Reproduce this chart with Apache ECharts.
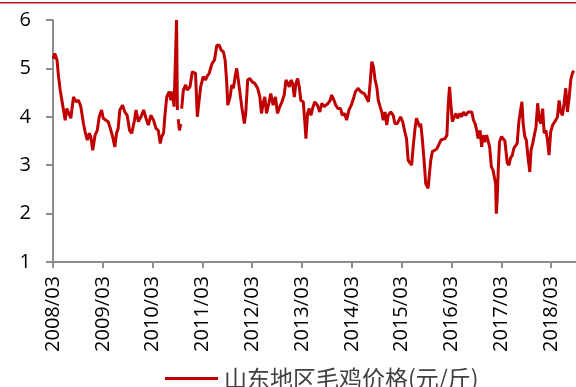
<!DOCTYPE html>
<html>
<head>
<meta charset="utf-8">
<title>山东地区毛鸡价格</title>
<script src="https://cdn.jsdelivr.net/npm/echarts@6/dist/echarts.min.js"></script>
<style>
  html, body { margin: 0; padding: 0; background: #fff; }
  #chart { width: 576px; height: 387px; }
</style>
</head>
<body>
<div id="chart"></div>
<script>
// 山东地区毛鸡价格 (元/斤)，周度数据，null 表示缺失
const seriesName = '山东地区毛鸡价格(元/斤)'
const dates = [
  '2008-03-03', '2008-03-14', '2008-03-30', '2008-04-11', '2008-04-23', '2008-05-13', '2008-05-29', '2008-06-11', '2008-06-23', '2008-07-10',
  '2008-07-29', '2008-08-18', '2008-09-05', '2008-09-22', '2008-10-11', '2008-10-23', '2008-11-09', '2008-11-24', '2008-12-04', '2008-12-18',
  '2009-01-05', '2009-01-21', '2009-02-05', '2009-02-22', '2009-03-04', '2009-03-24', '2009-04-10', '2009-04-22', '2009-05-12', '2009-05-28',
  '2009-06-10', '2009-06-22', '2009-07-04', '2009-07-24', '2009-08-10', '2009-08-27', '2009-09-14', '2009-09-30', '2009-10-20', '2009-11-01',
  '2009-11-18', '2009-12-07', '2009-12-26', '2010-01-13', '2010-01-30', '2010-02-18', '2010-03-08', '2010-03-25', '2010-04-12', '2010-04-26',
  '2010-05-06', '2010-05-20', '2010-05-29', '2010-06-13', '2010-07-01', '2010-07-12', '2010-07-24', '2010-08-06', '2010-08-18', '2010-08-24',
  '2010-08-30', '2010-09-03', '2010-09-06', '2010-09-15', '2010-09-24', '2010-09-27', '2010-10-01', '2010-10-13', '2010-10-30', '2010-11-12',
  '2010-12-01', '2010-12-18', '2010-12-30', '2011-01-11', '2011-01-24', '2011-02-06', '2011-02-18', '2011-03-07', '2011-03-24', '2011-04-03',
  '2011-04-20', '2011-05-10', '2011-05-28', '2011-06-15', '2011-07-02', '2011-07-16', '2011-08-03', '2011-08-15', '2011-08-27', '2011-09-04',
  '2011-09-21', '2011-10-03', '2011-10-15', '2011-10-27', '2011-11-09', '2011-11-20', '2011-12-03', '2011-12-15', '2012-01-04', '2012-01-14',
  '2012-01-28', '2012-02-14', '2012-03-01', '2012-03-20', '2012-04-10', '2012-04-26', '2012-05-08', '2012-05-20', '2012-06-02', '2012-06-14',
  '2012-07-01', '2012-07-15', '2012-08-02', '2012-08-19', '2012-09-03', '2012-09-20', '2012-10-06', '2012-10-22', '2012-11-05', '2012-11-17',
  '2012-11-29', '2012-12-11', '2012-12-23', '2013-01-05', '2013-01-17', '2013-01-29', '2013-02-11', '2013-02-22', '2013-03-10', '2013-03-22',
  '2013-03-29', '2013-04-11', '2013-04-23', '2013-05-05', '2013-05-17', '2013-06-03', '2013-06-22', '2013-07-09', '2013-07-24', '2013-08-11',
  '2013-08-22', '2013-09-10', '2013-09-24', '2013-10-05', '2013-10-22', '2013-11-04', '2013-11-21', '2013-12-10', '2013-12-22', '2014-01-09',
  '2014-01-23', '2014-02-10', '2014-02-27', '2014-03-16', '2014-03-27', '2014-04-17', '2014-05-04', '2014-05-16', '2014-05-30', '2014-06-14',
  '2014-07-01', '2014-07-13', '2014-07-25', '2014-08-07', '2014-08-19', '2014-09-01', '2014-09-12', '2014-09-25', '2014-10-07', '2014-10-18',
  '2014-11-01', '2014-11-13', '2014-11-24', '2014-12-12', '2014-12-30', '2015-01-12', '2015-01-29', '2015-02-13', '2015-02-23', '2015-03-08',
  '2015-03-24', '2015-04-06', '2015-04-18', '2015-04-30', '2015-05-13', '2015-05-24', '2015-06-06', '2015-06-18', '2015-06-30', '2015-07-12',
  '2015-07-19', '2015-08-01', '2015-08-13', '2015-08-25', '2015-09-12', '2015-09-24', '2015-10-01', '2015-10-13', '2015-10-30', '2015-11-16',
  '2015-11-30', '2015-12-15', '2015-12-27', '2016-01-14', '2016-01-28', '2016-02-08', '2016-02-17', '2016-02-26', '2016-03-07', '2016-03-21',
  '2016-04-03', '2016-04-15', '2016-05-02', '2016-05-14', '2016-05-28', '2016-06-14', '2016-07-02', '2016-07-16', '2016-07-28', '2016-08-10',
  '2016-08-22', '2016-09-03', '2016-09-13', '2016-09-28', '2016-10-09', '2016-10-20', '2016-11-01', '2016-11-15', '2016-11-25', '2016-12-07',
  '2016-12-19', '2017-01-01', '2017-01-13', '2017-01-20', '2017-01-25', '2017-02-02', '2017-02-09', '2017-02-18', '2017-03-03', '2017-03-15',
  '2017-03-27', '2017-04-14', '2017-04-26', '2017-05-08', '2017-05-20', '2017-06-02', '2017-06-14', '2017-06-26', '2017-07-08', '2017-07-20',
  '2017-07-30', '2017-08-09', '2017-08-21', '2017-09-02', '2017-09-14', '2017-09-27', '2017-10-06', '2017-10-18', '2017-10-30', '2017-11-12',
  '2017-11-24', '2017-12-06', '2017-12-18', '2017-12-30', '2018-01-11', '2018-01-23', '2018-02-05', '2018-02-16', '2018-02-28', '2018-03-12',
  '2018-03-23', '2018-04-05', '2018-04-17', '2018-04-29', '2018-05-11', '2018-05-23', '2018-06-05', '2018-06-17', '2018-06-29', '2018-07-11',
  '2018-07-23', '2018-08-05', '2018-08-15'
]
const prices = [
  5.20, 5.31, 5.17, 4.83, 4.55, 4.21, 3.93, 4.17, 4.21, 3.97,
  4.41, 4.31, 4.34, 4.21, 3.86, 3.69, 3.52, 3.66, 3.59, 3.31,
  3.62, 3.72, 4.00, 4.14, 3.97, 3.93, 3.90, 3.79, 3.59, 3.38,
  3.66, 3.76, 4.14, 4.24, 4.10, 4.03, 3.72, 3.66, 3.93, 4.14,
  3.90, 4.00, 4.14, 3.97, 3.83, 4.03, 3.93, 3.76, 3.72, 3.45,
  3.59, 3.66, 4.00, 4.41, 4.52, 4.34, 4.52, 4.21, 4.17, 6.00,
  4.14, null, 3.95, 3.72, 3.85, null, 4.17, 4.55, 4.66, 4.55,
  4.62, 4.93, 4.97, 4.90, 4.00, 3.97, 4.62, 4.83, 4.76, 4.83,
  4.90, 5.10, 5.17, 5.48, 5.48, 5.38, 5.34, 5.17, 4.69, 4.24,
  4.41, 4.66, 4.59, 4.83, 5.00, 4.76, 4.48, 4.21, 3.86, 4.07,
  4.76, 4.79, 4.72, 4.69, 4.59, 4.41, 4.07, 4.28, 4.41, 4.07,
  4.28, 4.48, 4.24, 4.41, 4.07, 4.21, 4.31, 4.45, 4.76, 4.79,
  4.62, 4.76, 4.69, 4.41, 4.69, 4.79, 4.62, 4.34, 4.31, 3.86,
  3.55, 4.07, 4.17, 4.03, 4.17, 4.31, 4.24, 4.10, 4.28, 4.21,
  4.17, 4.28, 4.34, 4.45, 4.34, 4.24, 4.17, 4.17, 4.03, 4.07,
  3.93, 4.14, 4.24, 4.41, 4.52, 4.59, 4.52, 4.48, 4.48, 4.41,
  4.31, 4.69, 5.14, 5.03, 4.76, 4.62, 4.34, 4.21, 4.10, 3.93,
  4.10, 3.83, 4.03, 4.10, 4.03, 3.86, 3.86, 3.83, 4.00, 3.90,
  3.69, 3.55, 3.10, 3.10, 3.00, 3.38, 3.72, 3.97, 3.97, 3.79,
  3.86, 3.52, 3.10, 2.62, 2.52, 2.48, 3.10, 3.28, 3.31, 3.34,
  3.38, 3.52, 3.55, 3.55, 3.62, 4.28, 4.62, 4.28, 3.90, 3.93,
  4.07, 3.97, 4.07, 4.00, 4.10, 4.03, 4.10, 4.07, 4.10, 3.93,
  3.86, 3.72, 3.55, 3.72, 3.38, 3.62, 3.48, 3.62, 3.66, 3.38,
  2.97, 2.90, 2.90, 2.62, 2.00, 2.34, 2.90, 3.48, 3.59, 3.62,
  3.50, 3.05, 3.00, 3.15, 3.20, 3.35, 3.31, 3.45, 3.90, 3.86,
  4.31, 3.86, 3.59, 3.52, 3.17, 2.86, 3.31, 3.45, 3.62, 3.79,
  4.28, 3.93, 3.86, 4.17, 3.66, 3.72, 3.52, 3.21, 3.69, 3.83,
  3.86, 3.93, 4.00, 4.34, 4.10, 4.03, 4.28, 4.59, 4.10, 4.38,
  4.76, 4.90, 4.95
]
// x 轴刻度：每年 3 月
const tickYears = [2008, 2009, 2010, 2011, 2012, 2013, 2014, 2015, 2016, 2017, 2018]
const yTicks = [1, 2, 3, 4, 5, 6]

// 日期换算成距 2008/03 的月数
function monthOffset(d) {
  const p = d.split('-').map(Number)
  return (p[0] - tickYears[0]) * 12 + (p[1] - 3) + (p[2] - 1) / 30
}

const lineData = dates.map((d, i) => [monthOffset(d), prices[i] === null ? '-' : prices[i]])

const myChart = echarts.init(document.getElementById('chart'))
const option = {
  animation: false,
  textStyle: { fontFamily: '"Open Sans", "Noto Sans CJK SC", sans-serif' },
  graphic: [
    // 顶部红色细线
    { type: 'rect', left: 0, top: 2, shape: { width: 576, height: 1.5 }, style: { fill: '#b01c1c' } },
  ],
  legend: {
    left: 160,
    top: 362,
    icon: 'rect',
    itemWidth: 53,
    itemHeight: 3,
    itemGap: 10,
    textStyle: {
      fontSize: 23,
      color: '#404040',
      fontFamily: '"Noto Sans CJK SC", sans-serif',
      padding: [0, 0, 0, 1],
    },
    data: [seriesName],
  },
  grid: {
    left: 53,
    right: -3,
    top: 20,
    bottom: 125,
    containLabel: false,
  },
  xAxis: {
    type: 'value',
    min: 0,
    max: 126,
    interval: 12,
    splitLine: { show: false },
    axisLine: { lineStyle: { color: '#8c8c8c', width: 2 } },
    axisTick: { length: 6, lineStyle: { color: '#8c8c8c', width: 2 } },
    axisLabel: {
      rotate: 90,
      margin: 14,
      fontSize: 20,
      color: '#000',
      showMaxLabel: false,
      formatter: function (v) {
        if (v % 12 !== 0) return ''
        const y = tickYears[0] + v / 12
        return tickYears.indexOf(y) >= 0 ? y + '/03' : ''
      },
    },
  },
  yAxis: {
    type: 'value',
    min: yTicks[0],
    max: yTicks[yTicks.length - 1],
    interval: 1,
    splitLine: { show: false },
    axisLine: { show: true, lineStyle: { color: '#8c8c8c', width: 2 } },
    axisTick: { show: true, length: 7, lineStyle: { color: '#8c8c8c', width: 2 } },
    axisLabel: { margin: 22, fontSize: 20, color: '#000' },
  },
  series: [
    {
      name: seriesName,
      type: 'line',
      data: lineData,
      showSymbol: false,
      connectNulls: false,
      clip: true,
      lineStyle: { color: '#c00000', width: 3 },
      itemStyle: { color: '#c00000' },
    },
  ],
}
myChart.setOption(option)
</script>
</body>
</html>
